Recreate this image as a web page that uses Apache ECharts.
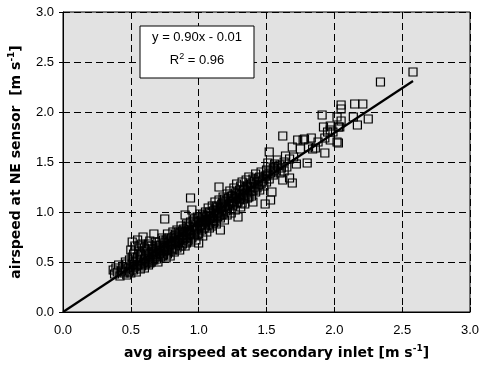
<!DOCTYPE html>
<html>
<head>
<meta charset="utf-8">
<script src="https://cdn.jsdelivr.net/npm/echarts@6/dist/echarts.min.js"></script>
<style>html,body{margin:0;padding:0;background:#fff}#c{width:481px;height:371px}</style>
</head>
<body>
<div id="c"></div>
<script>
// Measured points: [avg airspeed at secondary inlet, airspeed at NE sensor] (m/s)
var measuredPoints = [
[0.37,0.42],[0.38,0.38],[0.39,0.44],[0.40,0.40],[0.41,0.47],[0.42,0.36],[0.43,0.41],[0.44,0.45],[0.45,0.39],[0.46,0.43],[0.47,0.48],[0.47,0.37],[0.48,0.44],[0.49,0.41],[0.49,0.52],[0.50,0.46],[0.50,0.39],[0.51,0.55],
[0.50,0.62],[0.51,0.70],[0.51,0.48],[0.52,0.42],[0.52,0.58],[0.53,0.66],[0.53,0.45],[0.54,0.51],[0.54,0.40],[0.55,0.72],[0.55,0.55],[0.56,0.47],[0.56,0.61],[0.57,0.43],[0.57,0.52],[0.58,0.68],[0.58,0.57],[0.59,0.49],[0.59,0.75],[0.60,0.53],[0.60,0.44],[0.61,0.62],[0.61,0.56],[0.62,0.50],[0.62,0.66],[0.63,0.58],[0.63,0.47],[0.64,0.54],[0.64,0.71],[0.65,0.60],[0.65,0.50],[0.66,0.63],[0.66,0.56],[0.67,0.52],[0.67,0.78],[0.68,0.61],[0.68,0.55],[0.69,0.66],[0.69,0.58],[0.70,0.50],[0.70,0.64],[0.71,0.70],[0.71,0.59],[0.72,0.55],[0.72,0.67],[0.73,0.62],[0.73,0.74],[0.74,0.57],[0.74,0.66],[0.75,0.93],[0.75,0.69],[0.75,0.61],[0.76,0.54],[0.76,0.72],[0.77,0.65],[0.77,0.78],[0.78,0.60],[0.78,0.70],[0.79,0.67],[0.79,0.56],[0.80,0.74],[0.80,0.63],[0.81,0.80],[0.81,0.69],[0.82,0.60],[0.82,0.76],[0.83,0.71],[0.83,0.66],[0.84,0.82],[0.84,0.64],[0.85,0.75],[0.85,0.69],[0.86,0.62],[0.86,0.79],[0.87,0.73],[0.87,0.86],[0.88,0.68],[0.88,0.77],[0.89,0.83],[0.89,0.72],[0.90,0.97],[0.90,0.66],[0.90,0.80],[0.91,0.75],[0.91,0.88],[0.92,0.71],[0.92,0.81],[0.93,0.85],[0.93,0.77],[0.94,1.14],[0.94,0.70],[0.94,0.90],[0.95,0.82],[0.95,1.02],[0.96,0.76],[0.96,0.87],[0.97,0.93],[0.97,0.80],[0.98,0.72],[0.98,0.89],[0.99,0.84],[0.99,0.95],[1.00,0.78],[1.00,0.90],[1.00,0.69],
[1.01,0.86],[1.01,0.98],[1.02,0.82],[1.02,0.92],[1.03,0.88],[1.03,0.76],[1.04,0.95],[1.04,0.84],[1.05,1.00],[1.05,0.90],[1.06,0.80],[1.06,0.96],[1.07,0.87],[1.07,1.04],[1.08,0.93],[1.08,0.84],[1.09,0.99],[1.09,0.90],[1.10,1.06],[1.10,0.86],[1.11,0.96],[1.11,1.01],[1.12,0.91],[1.12,1.10],[1.13,0.99],[1.13,0.88],[1.14,1.05],[1.14,0.95],[1.15,1.25],[1.15,1.12],[1.15,1.00],[1.16,0.82],[1.16,0.94],[1.17,1.08],[1.17,1.03],[1.18,0.98],[1.18,1.15],[1.19,1.06],[1.19,0.92],[1.20,1.11],[1.20,1.01],[1.21,1.18],[1.21,0.97],[1.22,1.08],[1.22,1.14],[1.23,1.03],[1.23,1.21],[1.24,1.10],[1.24,0.99],[1.25,1.16],[1.25,1.06],[1.26,1.13],[1.26,1.24],[1.27,1.02],[1.27,1.19],[1.28,1.09],[1.28,1.28],[1.29,0.95],[1.29,1.15],[1.30,1.22],[1.30,1.12],[1.31,1.05],[1.31,1.26],[1.32,1.18],[1.32,1.30],[1.33,1.13],[1.34,1.23],[1.34,1.08],[1.35,1.32],[1.35,1.19],[1.36,1.26],[1.36,1.14],[1.37,1.35],[1.38,1.21],[1.38,1.29],[1.39,1.16],[1.40,1.10],[1.40,1.33],[1.41,1.25],[1.42,1.38],[1.42,1.20],[1.43,1.30],[1.44,1.27],[1.45,1.35],[1.45,1.22],[1.46,1.40],[1.47,1.31],[1.48,1.26],[1.49,1.08],[1.49,1.36],[1.50,1.42],[1.50,1.30],
[1.51,1.49],[1.51,1.38],[1.52,1.60],[1.52,1.33],[1.53,1.12],[1.53,1.45],[1.54,1.20],[1.55,1.44],[1.55,1.37],[1.56,1.48],[1.57,1.41],[1.58,1.52],[1.60,1.47],[1.60,1.39],[1.62,1.32],[1.62,1.76],[1.63,1.50],[1.64,1.56],[1.65,1.45],[1.67,1.34],[1.67,1.53],[1.69,1.29],[1.69,1.65],[1.70,1.55],[1.72,1.48],[1.73,1.72],[1.75,1.63],[1.77,1.72],[1.78,1.73],[1.80,1.49],[1.81,1.65],[1.83,1.74],[1.84,1.63],[1.86,1.64],[1.88,1.70],[1.91,1.97],[1.92,1.85],[1.93,1.59],[1.93,1.74],[1.95,1.80],[1.97,1.86],[1.97,1.72],[1.97,1.82],[1.99,1.80],[2.02,1.95],[2.02,1.70],[2.03,1.69],[2.03,1.85],[2.04,1.85],[2.05,2.07],[2.05,2.03],[2.05,1.91],[2.14,1.95],[2.15,2.08],[2.17,1.87],[2.21,2.08],[2.25,1.93],[2.34,2.30],[2.58,2.40],
[0.46,0.50],[0.48,0.40],[0.52,0.50],[0.53,0.60],[0.55,0.47],[0.56,0.66],[0.57,0.58],[0.58,0.46],[0.60,0.64],[0.61,0.48],[0.62,0.58],[0.63,0.68],[0.64,0.49],[0.65,0.66],[0.66,0.52],[0.67,0.60],[0.68,0.70],[0.69,0.53],[0.70,0.58],[0.71,0.64],[0.72,0.61],[0.73,0.56],[0.74,0.72],[0.75,0.65],[0.76,0.62],[0.77,0.58],[0.78,0.74],[0.79,0.71],[0.80,0.68],[0.81,0.62],[0.82,0.70],[0.83,0.77],[0.84,0.70],[0.85,0.80],[0.86,0.72],[0.87,0.66],[0.88,0.81],[0.89,0.77],[0.90,0.74],[0.91,0.69],[0.92,0.86],[0.93,0.81],[0.94,0.78],[0.95,0.74],[0.96,0.91],[0.97,0.85],[0.98,0.82],[0.99,0.78],[1.00,0.94],[1.01,0.91],[1.02,0.87],[1.03,0.97],[1.04,0.90],[1.05,0.86],[1.06,0.92],[1.07,0.96],[1.08,1.00],[1.09,0.94],[1.10,0.91],[1.11,0.89],[1.12,1.02],[1.13,1.06],[1.14,1.01],[1.15,0.96],[1.16,1.04],[1.17,0.97],[1.18,1.09],[1.19,1.13],[1.20,1.05],[1.21,1.02],[1.22,1.11],[1.23,1.07],[1.24,1.16],[1.25,1.11],[1.26,1.08],[1.27,1.14],[1.28,1.18],[1.29,1.10],[1.30,1.17],[1.31,1.14],[1.32,1.09],[1.33,1.22],[1.34,1.17],[1.35,1.25],[1.36,1.20],[1.37,1.15],[1.38,1.25],[1.39,1.28],[1.40,1.21],[1.41,1.31],[1.43,1.24],[1.44,1.34],[1.46,1.28],[1.48,1.33],[1.50,1.36],[1.53,1.39],[1.56,1.42],[1.58,1.46],[1.61,1.44],[1.63,1.41]
];
// Regression line end points (y = 0.90x - 0.01)
var fitLine = [[0.0, 0.0], [2.58, 2.31]];
var xTicks = [0.0, 0.5, 1.0, 1.5, 2.0, 2.5, 3.0];
var yTicks = [0.0, 0.5, 1.0, 1.5, 2.0, 2.5, 3.0];
var eqText = ['y = 0.90x - 0.01', 'R', '2', ' = 0.96'];

var chart = echarts.init(document.getElementById('c'), null, {renderer: 'canvas'});
var font = 'Liberation Sans, Arial, sans-serif';
var tfont = 'DejaVu Sans, Liberation Sans, sans-serif';
var dashed = {show: true, lineStyle: {color: '#000', type: [7, 4], width: 1}};
var titleRich = {
  a: {fontSize: 14, fontWeight: 'bold', fontFamily: tfont, color: '#000'},
  s: {fontSize: 9, fontWeight: 'bold', fontFamily: tfont, color: '#000', padding: [0, 0, 9, 0]}
};
chart.setOption({
  animation: false,
  backgroundColor: '#fff',
  grid: {left: 63, right: 11, top: 12, bottom: 59, show: true, backgroundColor: '#e2e2e2', borderColor: '#000', borderWidth: 1, containLabel: false, outerBoundsMode: 'none'},
  xAxis: {
    type: 'value', min: xTicks[0], max: xTicks[xTicks.length - 1], interval: 0.5,
    axisLine: {show: true, lineStyle: {color: '#000', width: 1}},
    axisTick: {show: true, inside: true, length: 5, lineStyle: {color: '#000'}},
    axisLabel: {color: '#000', fontSize: 13, fontFamily: font, margin: 12, formatter: function (v) { return v.toFixed(1); }},
    splitLine: dashed,
    name: '{a|avg airspeed at secondary inlet [m s}{s|-1}{a|]}',
    nameLocation: 'middle', nameGap: 32,
    nameTextStyle: {rich: titleRich, padding: [0, 0, 0, 20]}
  },
  yAxis: {
    type: 'value', min: yTicks[0], max: yTicks[yTicks.length - 1], interval: 0.5,
    axisLine: {show: true, lineStyle: {color: '#000', width: 1}},
    axisTick: {show: true, inside: false, length: 4, lineStyle: {color: '#000'}},
    axisLabel: {color: '#000', fontSize: 13, fontFamily: font, margin: 9, formatter: function (v) { return v.toFixed(1); }},
    splitLine: dashed,
    name: '{a|airspeed at NE sensor  [m s}{s|-1}{a|]}',
    nameLocation: 'middle', nameGap: 38, nameRotate: 90,
    nameTextStyle: {rich: titleRich}
  },
  series: [
    {
      type: 'scatter', data: measuredPoints, symbol: 'rect', symbolSize: 8,
      itemStyle: {color: 'rgba(0,0,0,0)', borderColor: '#000', borderWidth: 1.2, opacity: 1},
      z: 2
    },
    {
      type: 'line', data: fitLine, symbol: 'none', lineStyle: {color: '#000', width: 2.2}, z: 3
    }
  ],
  graphic: [
    {type: 'rect', x: 140, y: 26, shape: {x: 0, y: 0, width: 114, height: 52}, style: {fill: '#fff', stroke: '#000', lineWidth: 1}, z: 10},
    {type: 'text', x: 197, y: 31, z: 11, style: {text: eqText[0], fill: '#000', font: '13px ' + font, align: 'center', verticalAlign: 'top'}},
    {type: 'text', x: 197, y: 52, z: 11, style: {rich: {a: {fontSize: 13, fontFamily: font, color: '#000'}, s: {fontSize: 9, fontFamily: font, color: '#000', padding: [0, 0, 8, 0]}}, text: '{a|' + eqText[1] + '}{s|' + eqText[2] + '}{a|' + eqText[3] + '}', align: 'center', verticalAlign: 'top'}}
  ]
});
</script>
</body>
</html>
